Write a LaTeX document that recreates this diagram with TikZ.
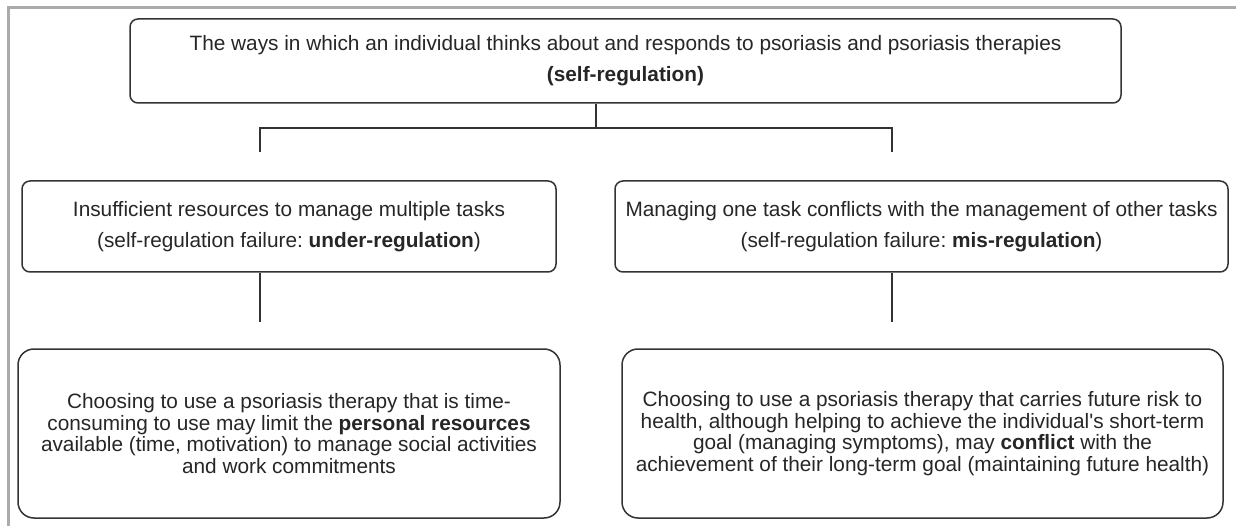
\documentclass[tikz,border=0pt]{standalone}
\usepackage{fontspec}
\setmainfont{Liberation Sans}[Ligatures=TeXOff]
\frenchspacing
\definecolor{linec}{HTML}{333333}
\definecolor{txt}{HTML}{262626}
\definecolor{framec}{HTML}{ABABAB}
\begin{document}
\begin{tikzpicture}[x=1pt,y=-1pt,
  box/.style={draw=linec, line width=1.5pt, rounded corners=8pt, inner sep=0pt, align=center, text=txt, font=\fontsize{20.8}{31}\selectfont},
  bigbox/.style={box, rounded corners=16pt, font=\fontsize{20.8}{21.5}\selectfont},
  conn/.style={draw=linec, line width=1.5pt},
  frame/.style={draw=framec, line width=3pt}]
\useasboundingbox (0,0) rectangle (1236,526);
\draw[frame] (8,526) -- (8,8) -- (1236,8);

\node[box, minimum width=991pt, minimum height=84pt] (top) at (625.5,61)
  {The ways in which an individual thinks about and responds to psoriasis and psoriasis therapies\\ \textbf{(self-regulation)}};

\node[box, minimum width=534pt, minimum height=91pt] (midl) at (289,226.5)
  {Insufficient resources to manage multiple tasks\\ (self-regulation failure: \textbf{under-regulation})};
\node[box, minimum width=613pt, minimum height=91pt] (midr) at (921.5,226.5)
  {Managing one task conflicts with the management of other tasks\\ (self-regulation failure: \textbf{mis-regulation})};

\node[bigbox, minimum width=542pt, minimum height=169pt] (botl) at (289,433.5)
  {Choosing to use a psoriasis therapy that is time-\\ consuming to use may limit the \textbf{personal resources}\\ available (time, motivation) to manage social activities\\ and work commitments};
\node[bigbox, minimum width=601pt, minimum height=169pt] (botr) at (922.5,433.5)
  {Choosing to use a psoriasis therapy that carries future risk to\\ health, although helping to achieve the individual's short-term\\ goal (managing symptoms), may \textbf{conflict} with the\\ achievement of their long-term goal (maintaining future health)};

\coordinate (j) at (596,128);
\coordinate (jl) at (260,128);
\coordinate (jr) at (892,128);
\coordinate (el) at (260,152);
\coordinate (er) at (892,152);
\coordinate (ml) at (260,322);
\coordinate (mr) at (892,322);

\draw[conn] (top.south -| j) -- (j);
\draw[conn] (el) -- (jl) -- (jr) -- (er);
\draw[conn] (midl.south -| ml) -- (ml);
\draw[conn] (midr.south -| mr) -- (mr);
\end{tikzpicture}
\end{document}
